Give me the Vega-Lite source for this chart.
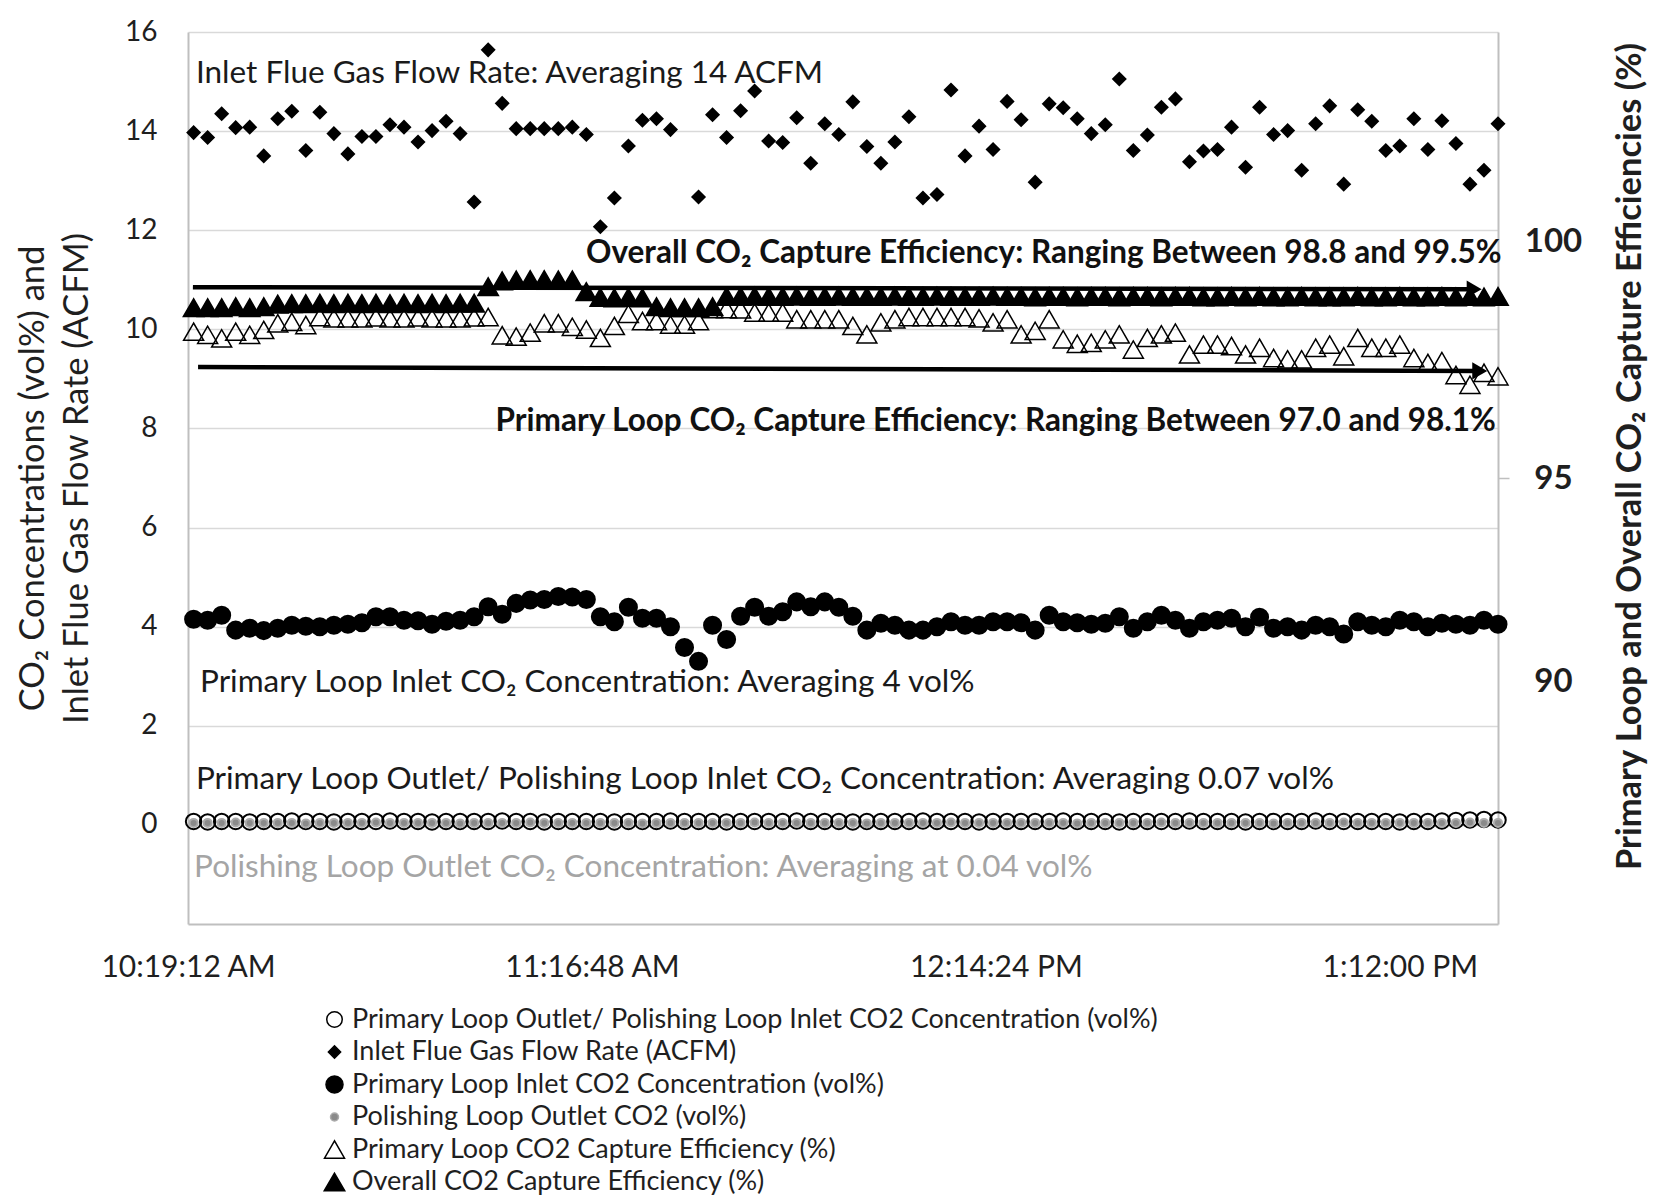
{
  "$schema": "https://vega.github.io/schema/vega-lite/v6.json",
  "width": 1310,
  "height": 892,
  "autosize": {"type": "none"},
  "padding": {"left": 188, "top": 32, "right": 155, "bottom": 271},
  "background": "white",
  "config": {
    "font": "Lato",
    "view": {"stroke": null},
    "axis": {"labelFont": "Lato", "titleFont": "Lato", "labelColor": "#1f1f1f", "titleColor": "#1f1f1f", "titleFontWeight": "normal"},
    "legend": {"labelFont": "Lato", "labelColor": "#1f1f1f"}
  },
  "datasets": {
    "readings": [
      {"t": "2019-06-12T10:20:00", "flow": 13.97, "inlet": 4.15, "outlet": 0.07, "polish": 0.04, "primary": 98.28, "overall": 98.82},
      {"t": "2019-06-12T10:22:00", "flow": 13.87, "inlet": 4.13, "outlet": 0.06, "polish": 0.04, "primary": 98.21, "overall": 98.82},
      {"t": "2019-06-12T10:24:00", "flow": 14.35, "inlet": 4.23, "outlet": 0.07, "polish": 0.04, "primary": 98.13, "overall": 98.82},
      {"t": "2019-06-12T10:26:00", "flow": 14.07, "inlet": 3.93, "outlet": 0.07, "polish": 0.05, "primary": 98.28, "overall": 98.84},
      {"t": "2019-06-12T10:28:00", "flow": 14.08, "inlet": 3.97, "outlet": 0.06, "polish": 0.04, "primary": 98.21, "overall": 98.82},
      {"t": "2019-06-12T10:30:00", "flow": 13.50, "inlet": 3.92, "outlet": 0.07, "polish": 0.04, "primary": 98.32, "overall": 98.84},
      {"t": "2019-06-12T10:32:00", "flow": 14.25, "inlet": 3.97, "outlet": 0.07, "polish": 0.04, "primary": 98.47, "overall": 98.90},
      {"t": "2019-06-12T10:34:00", "flow": 14.40, "inlet": 4.03, "outlet": 0.08, "polish": 0.04, "primary": 98.50, "overall": 98.91},
      {"t": "2019-06-12T10:36:00", "flow": 13.61, "inlet": 4.01, "outlet": 0.07, "polish": 0.03, "primary": 98.43, "overall": 98.91},
      {"t": "2019-06-12T10:38:00", "flow": 14.38, "inlet": 4.00, "outlet": 0.07, "polish": 0.04, "primary": 98.61, "overall": 98.92},
      {"t": "2019-06-12T10:40:00", "flow": 13.95, "inlet": 4.03, "outlet": 0.06, "polish": 0.04, "primary": 98.58, "overall": 98.91},
      {"t": "2019-06-12T10:42:00", "flow": 13.54, "inlet": 4.05, "outlet": 0.07, "polish": 0.04, "primary": 98.58, "overall": 98.92},
      {"t": "2019-06-12T10:44:00", "flow": 13.89, "inlet": 4.08, "outlet": 0.07, "polish": 0.04, "primary": 98.58, "overall": 98.91},
      {"t": "2019-06-12T10:46:00", "flow": 13.89, "inlet": 4.20, "outlet": 0.07, "polish": 0.05, "primary": 98.60, "overall": 98.92},
      {"t": "2019-06-12T10:48:00", "flow": 14.13, "inlet": 4.20, "outlet": 0.08, "polish": 0.04, "primary": 98.58, "overall": 98.91},
      {"t": "2019-06-12T10:50:00", "flow": 14.08, "inlet": 4.13, "outlet": 0.07, "polish": 0.04, "primary": 98.58, "overall": 98.92},
      {"t": "2019-06-12T10:52:00", "flow": 13.78, "inlet": 4.12, "outlet": 0.07, "polish": 0.04, "primary": 98.60, "overall": 98.91},
      {"t": "2019-06-12T10:54:00", "flow": 14.01, "inlet": 4.05, "outlet": 0.06, "polish": 0.04, "primary": 98.58, "overall": 98.92},
      {"t": "2019-06-12T10:56:00", "flow": 14.20, "inlet": 4.11, "outlet": 0.07, "polish": 0.04, "primary": 98.58, "overall": 98.91},
      {"t": "2019-06-12T10:58:00", "flow": 13.95, "inlet": 4.13, "outlet": 0.07, "polish": 0.03, "primary": 98.58, "overall": 98.92},
      {"t": "2019-06-12T11:00:00", "flow": 12.57, "inlet": 4.20, "outlet": 0.07, "polish": 0.04, "primary": 98.60, "overall": 98.92},
      {"t": "2019-06-12T11:02:00", "flow": 15.64, "inlet": 4.40, "outlet": 0.07, "polish": 0.04, "primary": 98.61, "overall": 99.29},
      {"t": "2019-06-12T11:04:00", "flow": 14.56, "inlet": 4.25, "outlet": 0.08, "polish": 0.04, "primary": 98.20, "overall": 99.42},
      {"t": "2019-06-12T11:06:00", "flow": 14.05, "inlet": 4.47, "outlet": 0.07, "polish": 0.04, "primary": 98.17, "overall": 99.44},
      {"t": "2019-06-12T11:08:00", "flow": 14.05, "inlet": 4.54, "outlet": 0.07, "polish": 0.05, "primary": 98.26, "overall": 99.45},
      {"t": "2019-06-12T11:10:00", "flow": 14.05, "inlet": 4.55, "outlet": 0.06, "polish": 0.04, "primary": 98.47, "overall": 99.45},
      {"t": "2019-06-12T11:12:00", "flow": 14.05, "inlet": 4.61, "outlet": 0.07, "polish": 0.04, "primary": 98.47, "overall": 99.44},
      {"t": "2019-06-12T11:14:00", "flow": 14.08, "inlet": 4.60, "outlet": 0.07, "polish": 0.04, "primary": 98.39, "overall": 99.44},
      {"t": "2019-06-12T11:16:00", "flow": 13.93, "inlet": 4.55, "outlet": 0.07, "polish": 0.04, "primary": 98.33, "overall": 99.18},
      {"t": "2019-06-12T11:18:00", "flow": 12.07, "inlet": 4.20, "outlet": 0.07, "polish": 0.04, "primary": 98.14, "overall": 99.05},
      {"t": "2019-06-12T11:20:00", "flow": 12.65, "inlet": 4.10, "outlet": 0.06, "polish": 0.04, "primary": 98.41, "overall": 99.04},
      {"t": "2019-06-12T11:22:00", "flow": 13.70, "inlet": 4.39, "outlet": 0.07, "polish": 0.04, "primary": 98.68, "overall": 99.05},
      {"t": "2019-06-12T11:24:00", "flow": 14.22, "inlet": 4.17, "outlet": 0.07, "polish": 0.03, "primary": 98.52, "overall": 99.04},
      {"t": "2019-06-12T11:26:00", "flow": 14.25, "inlet": 4.17, "outlet": 0.07, "polish": 0.04, "primary": 98.52, "overall": 98.84},
      {"t": "2019-06-12T11:28:00", "flow": 14.03, "inlet": 4.00, "outlet": 0.08, "polish": 0.04, "primary": 98.44, "overall": 98.82},
      {"t": "2019-06-12T11:30:00", "flow": null, "inlet": 3.58, "outlet": 0.07, "polish": 0.04, "primary": 98.44, "overall": 98.82},
      {"t": "2019-06-12T11:32:00", "flow": 12.67, "inlet": 3.30, "outlet": 0.07, "polish": 0.04, "primary": 98.52, "overall": 98.82},
      {"t": "2019-06-12T11:34:00", "flow": 14.33, "inlet": 4.03, "outlet": 0.07, "polish": 0.04, "primary": 98.79, "overall": 98.84},
      {"t": "2019-06-12T11:36:00", "flow": 13.87, "inlet": 3.74, "outlet": 0.06, "polish": 0.04, "primary": 98.79, "overall": 99.07},
      {"t": "2019-06-12T11:38:00", "flow": 14.41, "inlet": 4.21, "outlet": 0.07, "polish": 0.04, "primary": 98.78, "overall": 99.07},
      {"t": "2019-06-12T11:40:00", "flow": 14.81, "inlet": 4.39, "outlet": 0.07, "polish": 0.05, "primary": 98.71, "overall": 99.08},
      {"t": "2019-06-12T11:42:00", "flow": 13.80, "inlet": 4.21, "outlet": 0.07, "polish": 0.04, "primary": 98.71, "overall": 99.07},
      {"t": "2019-06-12T11:44:00", "flow": 13.77, "inlet": 4.30, "outlet": 0.07, "polish": 0.04, "primary": 98.71, "overall": 99.07},
      {"t": "2019-06-12T11:46:00", "flow": 14.27, "inlet": 4.50, "outlet": 0.08, "polish": 0.04, "primary": 98.56, "overall": 99.08},
      {"t": "2019-06-12T11:48:00", "flow": 13.35, "inlet": 4.40, "outlet": 0.07, "polish": 0.04, "primary": 98.56, "overall": 99.07},
      {"t": "2019-06-12T11:50:00", "flow": 14.15, "inlet": 4.50, "outlet": 0.07, "polish": 0.04, "primary": 98.56, "overall": 99.07},
      {"t": "2019-06-12T11:52:00", "flow": 13.93, "inlet": 4.39, "outlet": 0.07, "polish": 0.04, "primary": 98.56, "overall": 99.08},
      {"t": "2019-06-12T11:54:00", "flow": 14.59, "inlet": 4.21, "outlet": 0.06, "polish": 0.04, "primary": 98.41, "overall": 99.07},
      {"t": "2019-06-12T11:56:00", "flow": 13.69, "inlet": 3.93, "outlet": 0.07, "polish": 0.03, "primary": 98.22, "overall": 99.07},
      {"t": "2019-06-12T11:58:00", "flow": 13.35, "inlet": 4.07, "outlet": 0.07, "polish": 0.04, "primary": 98.49, "overall": 99.07},
      {"t": "2019-06-12T12:00:00", "flow": 13.78, "inlet": 4.03, "outlet": 0.07, "polish": 0.04, "primary": 98.56, "overall": 99.08},
      {"t": "2019-06-12T12:02:00", "flow": 14.29, "inlet": 3.93, "outlet": 0.07, "polish": 0.04, "primary": 98.61, "overall": 99.07},
      {"t": "2019-06-12T12:04:00", "flow": 12.65, "inlet": 3.93, "outlet": 0.08, "polish": 0.04, "primary": 98.61, "overall": 99.07},
      {"t": "2019-06-12T12:06:00", "flow": 12.72, "inlet": 4.00, "outlet": 0.07, "polish": 0.04, "primary": 98.61, "overall": 99.08},
      {"t": "2019-06-12T12:08:00", "flow": 14.83, "inlet": 4.10, "outlet": 0.07, "polish": 0.05, "primary": 98.61, "overall": 99.07},
      {"t": "2019-06-12T12:10:00", "flow": 13.50, "inlet": 4.03, "outlet": 0.07, "polish": 0.04, "primary": 98.61, "overall": 99.07},
      {"t": "2019-06-12T12:12:00", "flow": 14.10, "inlet": 4.03, "outlet": 0.06, "polish": 0.04, "primary": 98.58, "overall": 99.07},
      {"t": "2019-06-12T12:14:00", "flow": 13.63, "inlet": 4.10, "outlet": 0.07, "polish": 0.04, "primary": 98.49, "overall": 99.08},
      {"t": "2019-06-12T12:16:00", "flow": 14.60, "inlet": 4.10, "outlet": 0.07, "polish": 0.04, "primary": 98.56, "overall": 99.07},
      {"t": "2019-06-12T12:18:00", "flow": 14.23, "inlet": 4.08, "outlet": 0.07, "polish": 0.04, "primary": 98.22, "overall": 99.07},
      {"t": "2019-06-12T12:20:00", "flow": 12.97, "inlet": 3.93, "outlet": 0.07, "polish": 0.04, "primary": 98.30, "overall": 99.06},
      {"t": "2019-06-12T12:22:00", "flow": 14.55, "inlet": 4.23, "outlet": 0.07, "polish": 0.04, "primary": 98.56, "overall": 99.07},
      {"t": "2019-06-12T12:24:00", "flow": 14.47, "inlet": 4.10, "outlet": 0.08, "polish": 0.04, "primary": 98.11, "overall": 99.07},
      {"t": "2019-06-12T12:26:00", "flow": 14.25, "inlet": 4.08, "outlet": 0.07, "polish": 0.03, "primary": 98.01, "overall": 99.06},
      {"t": "2019-06-12T12:28:00", "flow": 13.95, "inlet": 4.05, "outlet": 0.07, "polish": 0.04, "primary": 98.03, "overall": 99.07},
      {"t": "2019-06-12T12:30:00", "flow": 14.13, "inlet": 4.07, "outlet": 0.07, "polish": 0.04, "primary": 98.11, "overall": 99.07},
      {"t": "2019-06-12T12:32:00", "flow": 15.05, "inlet": 4.20, "outlet": 0.06, "polish": 0.04, "primary": 98.22, "overall": 99.06},
      {"t": "2019-06-12T12:34:00", "flow": 13.61, "inlet": 3.97, "outlet": 0.07, "polish": 0.04, "primary": 97.88, "overall": 99.07},
      {"t": "2019-06-12T12:36:00", "flow": 13.92, "inlet": 4.10, "outlet": 0.07, "polish": 0.04, "primary": 98.14, "overall": 99.07},
      {"t": "2019-06-12T12:38:00", "flow": 14.48, "inlet": 4.23, "outlet": 0.07, "polish": 0.05, "primary": 98.22, "overall": 99.06},
      {"t": "2019-06-12T12:40:00", "flow": 14.65, "inlet": 4.13, "outlet": 0.07, "polish": 0.04, "primary": 98.26, "overall": 99.07},
      {"t": "2019-06-12T12:42:00", "flow": 13.38, "inlet": 3.97, "outlet": 0.08, "polish": 0.04, "primary": 97.77, "overall": 99.07},
      {"t": "2019-06-12T12:44:00", "flow": 13.60, "inlet": 4.10, "outlet": 0.07, "polish": 0.04, "primary": 97.99, "overall": 99.06},
      {"t": "2019-06-12T12:46:00", "flow": 13.63, "inlet": 4.13, "outlet": 0.07, "polish": 0.04, "primary": 97.99, "overall": 99.06},
      {"t": "2019-06-12T12:48:00", "flow": 14.08, "inlet": 4.17, "outlet": 0.07, "polish": 0.04, "primary": 97.96, "overall": 99.07},
      {"t": "2019-06-12T12:50:00", "flow": 13.27, "inlet": 4.00, "outlet": 0.06, "polish": 0.04, "primary": 97.77, "overall": 99.06},
      {"t": "2019-06-12T12:52:00", "flow": 14.48, "inlet": 4.19, "outlet": 0.07, "polish": 0.04, "primary": 97.92, "overall": 99.07},
      {"t": "2019-06-12T12:54:00", "flow": 13.93, "inlet": 3.97, "outlet": 0.07, "polish": 0.03, "primary": 97.69, "overall": 99.06},
      {"t": "2019-06-12T12:56:00", "flow": 14.01, "inlet": 4.00, "outlet": 0.07, "polish": 0.04, "primary": 97.66, "overall": 99.06},
      {"t": "2019-06-12T12:58:00", "flow": 13.21, "inlet": 3.93, "outlet": 0.07, "polish": 0.04, "primary": 97.66, "overall": 99.07},
      {"t": "2019-06-12T13:00:00", "flow": 14.15, "inlet": 4.03, "outlet": 0.08, "polish": 0.04, "primary": 97.92, "overall": 99.06},
      {"t": "2019-06-12T13:02:00", "flow": 14.51, "inlet": 4.00, "outlet": 0.07, "polish": 0.04, "primary": 97.99, "overall": 99.06},
      {"t": "2019-06-12T13:04:00", "flow": 12.93, "inlet": 3.85, "outlet": 0.07, "polish": 0.05, "primary": 97.73, "overall": 99.06},
      {"t": "2019-06-12T13:06:00", "flow": 14.43, "inlet": 4.10, "outlet": 0.07, "polish": 0.04, "primary": 98.14, "overall": 99.07},
      {"t": "2019-06-12T13:08:00", "flow": 14.20, "inlet": 4.03, "outlet": 0.07, "polish": 0.04, "primary": 97.92, "overall": 99.06},
      {"t": "2019-06-12T13:10:00", "flow": 13.61, "inlet": 4.00, "outlet": 0.07, "polish": 0.04, "primary": 97.92, "overall": 99.06},
      {"t": "2019-06-12T13:12:00", "flow": 13.70, "inlet": 4.13, "outlet": 0.06, "polish": 0.04, "primary": 97.99, "overall": 99.07},
      {"t": "2019-06-12T13:14:00", "flow": 14.25, "inlet": 4.10, "outlet": 0.07, "polish": 0.04, "primary": 97.69, "overall": 99.06},
      {"t": "2019-06-12T13:16:00", "flow": 13.63, "inlet": 4.00, "outlet": 0.07, "polish": 0.04, "primary": 97.58, "overall": 99.06},
      {"t": "2019-06-12T13:18:00", "flow": 14.21, "inlet": 4.07, "outlet": 0.08, "polish": 0.04, "primary": 97.62, "overall": 99.07},
      {"t": "2019-06-12T13:20:00", "flow": 13.75, "inlet": 4.05, "outlet": 0.09, "polish": 0.04, "primary": 97.31, "overall": 99.06},
      {"t": "2019-06-12T13:22:00", "flow": 12.93, "inlet": 4.03, "outlet": 0.10, "polish": 0.05, "primary": 97.09, "overall": 99.07},
      {"t": "2019-06-12T13:24:00", "flow": 13.21, "inlet": 4.13, "outlet": 0.11, "polish": 0.04, "primary": 97.36, "overall": 99.06},
      {"t": "2019-06-12T13:26:00", "flow": 14.15, "inlet": 4.05, "outlet": 0.10, "polish": 0.04, "primary": 97.28, "overall": 99.07}
    ],
    "arrows": [
      {"start": "2019-06-12T10:19:54", "end": "2019-06-12T13:22:36", "from": 10.85, "to": 10.81},
      {"start": "2019-06-12T10:20:38", "end": "2019-06-12T13:23:24", "from": 9.24, "to": 9.16}
    ],
    "notes": [
      {"t": "2019-06-12T10:20:20", "v": 15.15, "label": "Inlet Flue Gas Flow Rate: Averaging 14 ACFM"},
      {"t": "2019-06-12T10:20:55", "v": 2.86, "label": "Primary Loop Inlet CO₂ Concentration: Averaging 4 vol%"},
      {"t": "2019-06-12T10:20:20", "v": 0.90, "label": "Primary Loop Outlet/ Polishing Loop Inlet CO₂ Concentration: Averaging 0.07 vol%"}
    ],
    "boldNotes": [
      {"t": "2019-06-12T11:15:57", "v": 11.53, "label": "Overall CO₂ Capture Efficiency: Ranging Between 98.8 and 99.5%"},
      {"t": "2019-06-12T11:03:03", "v": 8.13, "label": "Primary Loop CO₂ Capture Efficiency: Ranging Between 97.0 and 98.1%"}
    ],
    "grayNotes": [
      {"t": "2019-06-12T10:20:04", "v": -0.87, "label": "Polishing Loop Outlet CO₂ Concentration: Averaging at 0.04 vol%"}
    ]
  },
  "layer": [
    {
      "layer": [
        {
          "data": {"name": "readings"},
          "transform": [{"fold": ["outlet", "flow", "inlet", "polish"], "as": ["series", "value"]}],
          "mark": {"type": "point", "filled": true, "opacity": 1, "strokeWidth": 2},
          "encoding": {
            "x": {
              "field": "t", "type": "temporal",
              "scale": {"domain": [{"year": 2019, "month": 6, "date": 12, "hours": 10, "minutes": 19, "seconds": 12}, {"year": 2019, "month": 6, "date": 12, "hours": 13, "minutes": 26, "seconds": 0}]},
              "axis": {
                "title": null,
                "values": [
                  {"year": 2019, "month": 6, "date": 12, "hours": 10, "minutes": 19, "seconds": 12},
                  {"year": 2019, "month": 6, "date": 12, "hours": 11, "minutes": 16, "seconds": 48},
                  {"year": 2019, "month": 6, "date": 12, "hours": 12, "minutes": 14, "seconds": 24},
                  {"year": 2019, "month": 6, "date": 12, "hours": 13, "minutes": 12, "seconds": 0}
                ],
                "format": "%-I:%M:%S %p",
                "labelFontSize": 30,
                "labelPadding": 28,
                "labelFlush": false,
                "labelOverlap": false,
                "labelBound": false,
                "ticks": false,
                "grid": false,
                "domainColor": "#bfbfbf",
                "domainWidth": 2
              }
            },
            "y": {
              "field": "value", "type": "quantitative",
              "scale": {"domain": [-2, 16], "nice": false, "zero": false},
              "axis": {
                "values": [0, 2, 4, 6, 8, 10, 12, 14, 16],
                "title": ["CO₂ Concentrations (vol%) and", "Inlet Flue Gas Flow Rate (ACFM)"],
                "titleFontSize": 34.5,
                "titleLineHeight": 44,
                "titleAngle": 270,
                "titleX": -155,
                "titleY": 446,
                "titleAlign": "center",
                "titleBaseline": "middle",
                "labelFontSize": 28,
                "labelPadding": 31,
                "ticks": false,
                "grid": true,
                "gridColor": "#d9d9d9",
                "gridWidth": 1.5,
                "domainColor": "#bfbfbf",
                "domainWidth": 2
              }
            },
            "shape": {
              "field": "series", "type": "nominal",
              "scale": {"domain": ["outlet", "flow", "inlet", "polish", "primary", "overall"], "range": ["circle", "diamond", "circle", "circle", "triangle-up", "triangle-up"]},
              "legend": {
                "orient": "none", "legendX": 133, "legendY": 974, "title": null,
                "labelFontSize": 27, "labelLimit": 1400, "rowPadding": 4.5, "labelOffset": 4, "padding": 0,
                "symbolStrokeWidth": 1.5, "symbolOpacity": 1,
                "labelExpr": "datum.value === 'outlet' ? 'Primary Loop Outlet/ Polishing Loop Inlet CO2 Concentration (vol%)' : datum.value === 'flow' ? 'Inlet Flue Gas Flow Rate (ACFM)' : datum.value === 'inlet' ? 'Primary Loop Inlet CO2 Concentration (vol%)' : datum.value === 'polish' ? 'Polishing Loop Outlet CO2 (vol%)' : datum.value === 'primary' ? 'Primary Loop CO2 Capture Efficiency (%)' : 'Overall CO2 Capture Efficiency (%)'"
              }
            },
            "fill": {
              "field": "series", "type": "nominal",
              "scale": {"domain": ["outlet", "flow", "inlet", "polish", "primary", "overall"], "range": ["transparent", "black", "black", "#8a8a8a", "transparent", "black"]}
            },
            "stroke": {
              "field": "series", "type": "nominal",
              "scale": {"domain": ["outlet", "flow", "inlet", "polish", "primary", "overall"], "range": ["black", "black", "black", "#ababab", "black", "black"]}
            },
            "size": {
              "field": "series", "type": "nominal",
              "scale": {"type": "ordinal", "domain": ["outlet", "flow", "inlet", "polish", "primary", "overall"], "range": [240, 150, 290, 64, 400, 420]}
            }
          }
        },
        {
          "data": {"name": "arrows"},
          "mark": {"type": "rule", "strokeWidth": 4.5, "color": "black"},
          "encoding": {
            "x": {"field": "start", "type": "temporal"},
            "x2": {"field": "end"},
            "y": {"field": "from", "type": "quantitative"},
            "y2": {"field": "to"}
          }
        },
        {
          "data": {"name": "arrows"},
          "mark": {"type": "point", "shape": "triangle-right", "filled": true, "color": "black", "opacity": 1, "size": 300},
          "encoding": {
            "x": {"field": "end", "type": "temporal"},
            "y": {"field": "to", "type": "quantitative"}
          }
        },
        {
          "data": {"name": "notes"},
          "mark": {"type": "text", "align": "left", "baseline": "middle", "font": "Lato", "fontSize": 31.5, "color": "#1a1a1a"},
          "encoding": {
            "x": {"field": "t", "type": "temporal"},
            "y": {"field": "v", "type": "quantitative"},
            "text": {"field": "label"}
          }
        },
        {
          "data": {"name": "boldNotes"},
          "mark": {"type": "text", "align": "left", "baseline": "middle", "font": "Lato", "fontSize": 31.5, "fontWeight": "bold", "color": "#111111"},
          "encoding": {
            "x": {"field": "t", "type": "temporal"},
            "y": {"field": "v", "type": "quantitative"},
            "text": {"field": "label"}
          }
        },
        {
          "data": {"name": "grayNotes"},
          "mark": {"type": "text", "align": "left", "baseline": "middle", "font": "Lato", "fontSize": 31.5, "color": "#a5a5a5"},
          "encoding": {
            "x": {"field": "t", "type": "temporal"},
            "y": {"field": "v", "type": "quantitative"},
            "text": {"field": "label"}
          }
        }
      ]
    },
    {
      "data": {"name": "readings"},
      "transform": [{"fold": ["primary", "overall"], "as": ["series", "value"]}],
      "mark": {"type": "point", "filled": true, "opacity": 1, "strokeWidth": 1.5},
      "encoding": {
        "x": {"field": "t", "type": "temporal"},
        "y": {
          "field": "value", "type": "quantitative",
          "scale": {"domain": [85, 105], "nice": false, "zero": false},
          "axis": {
            "orient": "right",
            "values": [90, 95, 100],
            "title": "Primary Loop and Overall CO₂ Capture Efficiencies (%)",
            "titleFontWeight": "bold",
            "titleFontSize": 34.5,
            "titleAngle": 270,
            "titleX": 132,
            "titleY": 424,
            "titleAlign": "center",
            "titleBaseline": "middle",
            "labelFontWeight": "bold",
            "labelFontSize": 33,
            "labelAlign": "center",
            "labelBaseline": "middle",
            "labelPadding": 44,
            "labelOffset": {"condition": [{"test": "datum.value === 100", "value": -14}, {"test": "datum.value === 90", "value": -20}], "value": 0},
            "tickSize": 11,
            "tickColor": "#bfbfbf",
            "tickWidth": 1.5,
            "tickOpacity": {"condition": {"test": "datum.value === 95", "value": 1}, "value": 0},
            "grid": false,
            "domainColor": "#bfbfbf",
            "domainWidth": 2
          }
        },
        "shape": {
          "field": "series", "type": "nominal",
          "scale": {"domain": ["outlet", "flow", "inlet", "polish", "primary", "overall"], "range": ["circle", "diamond", "circle", "circle", "triangle-up", "triangle-up"]}
        },
        "fill": {
          "field": "series", "type": "nominal",
          "scale": {"domain": ["outlet", "flow", "inlet", "polish", "primary", "overall"], "range": ["transparent", "black", "black", "#8a8a8a", "transparent", "black"]}
        },
        "stroke": {
          "field": "series", "type": "nominal",
          "scale": {"domain": ["outlet", "flow", "inlet", "polish", "primary", "overall"], "range": ["black", "black", "black", "#ababab", "black", "black"]}
        },
        "size": {
          "field": "series", "type": "nominal",
          "scale": {"type": "ordinal", "domain": ["outlet", "flow", "inlet", "polish", "primary", "overall"], "range": [240, 150, 290, 64, 400, 420]}
        }
      }
    }
  ],
  "resolve": {"scale": {"y": "independent"}}
}
